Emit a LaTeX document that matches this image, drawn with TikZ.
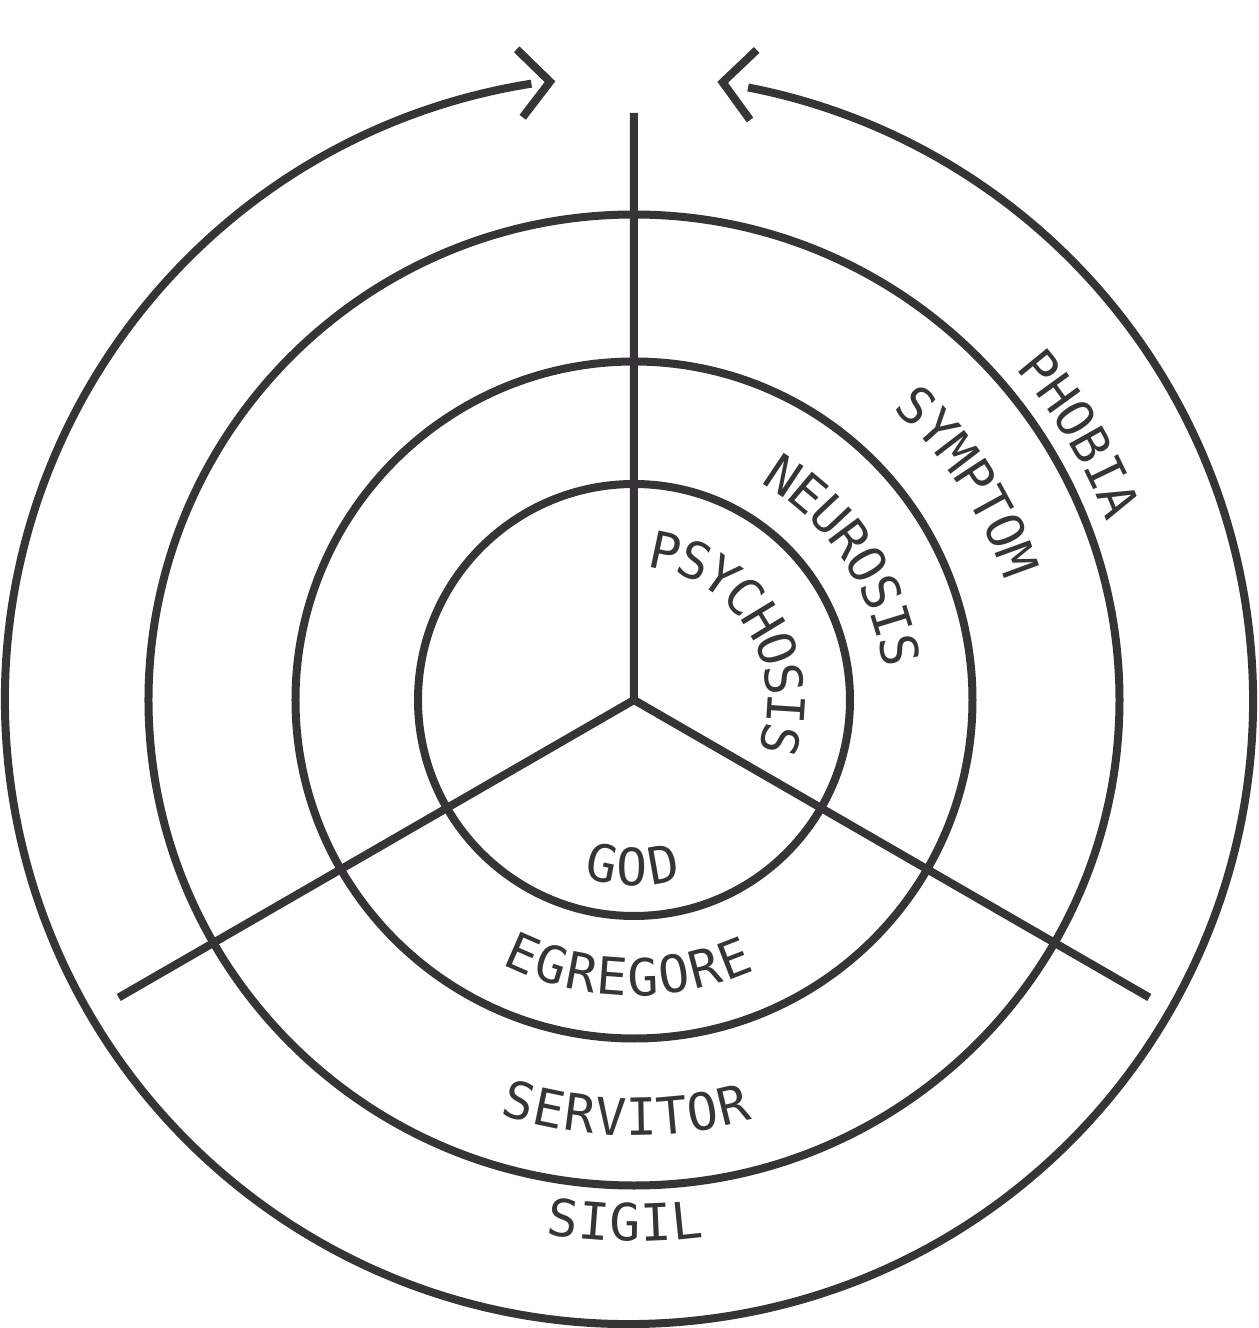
\documentclass[tikz,border=0pt]{standalone}
\usepackage{fontspec}
\usepackage{tikz}
\usetikzlibrary{decorations.text}
\newfontfamily\monofam{DejaVu Sans Mono}
\newcommand\ringfont{\monofam\fontsize{14.6pt}{17pt}\selectfont}
\definecolor{ink}{RGB}{54,52,54}
\tikzset{
  ring/.style={draw=ink, line width=0.8mm},
  ringlabel/.style={decorate, decoration={text along path, text align=center,
      raise=-1.87mm, text color=ink, text={|\ringfont|#1}}}
}

\begin{document}
\begin{tikzpicture}
  \useasboundingbox (-6.34,-6.28) rectangle (6.25,7.00);
  \coordinate (c) at (0,0);
  \coordinate (oc) at (-0.05,0);
  \coordinate (top) at (90:5.87);
  \coordinate (sw) at (210:5.95);
  \coordinate (se) at (330:5.95);
  \draw[ring] (top) -- (c) (sw) -- (c) -- (se);
  \draw[ring] (c) circle[radius=2.16];
  \draw[ring] (c) circle[radius=3.385];
  \draw[ring] (c) circle[radius=4.855];
  \draw[ring] (oc) ++(99:6.24) arc[start angle=99, end angle=439, radius=6.24];
  \draw[ring] (-1.173,6.507) -- (-0.84,6.183) -- (-1.113,5.827);
  \draw[ring] (1.227,6.50) -- (0.887,6.177) -- (1.16,5.80);
  \path[ringlabel=PSYCHOSIS] (101.35:1.52) arc[start angle=101.35, end angle=-38.65, radius=1.52];
  \path[ringlabel=NEUROSIS] (73.45:2.70) arc[start angle=73.45, end angle=-6.55, radius=2.70];
  \path[ringlabel=SYMPTOM] (58.1:4.08) arc[start angle=58.1, end angle=8.1, radius=4.08];
  \path[ringlabel=PHOBIA] (50.85:5.24) arc[start angle=50.85, end angle=10.85, radius=5.24];
  \path[ringlabel=GOD] (229.5:1.665) arc[start angle=229.5, end angle=309.5, radius=1.665];
  \path[ringlabel=EGREGORE] (228.8:2.77) arc[start angle=228.8, end angle=308.8, radius=2.77];
  \path[ringlabel=SERVITOR] (243.9:4.17) arc[start angle=243.9, end angle=293.9, radius=4.17];
  \path[ringlabel=SIGIL] (249:5.225) arc[start angle=249, end angle=289, radius=5.225];
\end{tikzpicture}
\end{document}
